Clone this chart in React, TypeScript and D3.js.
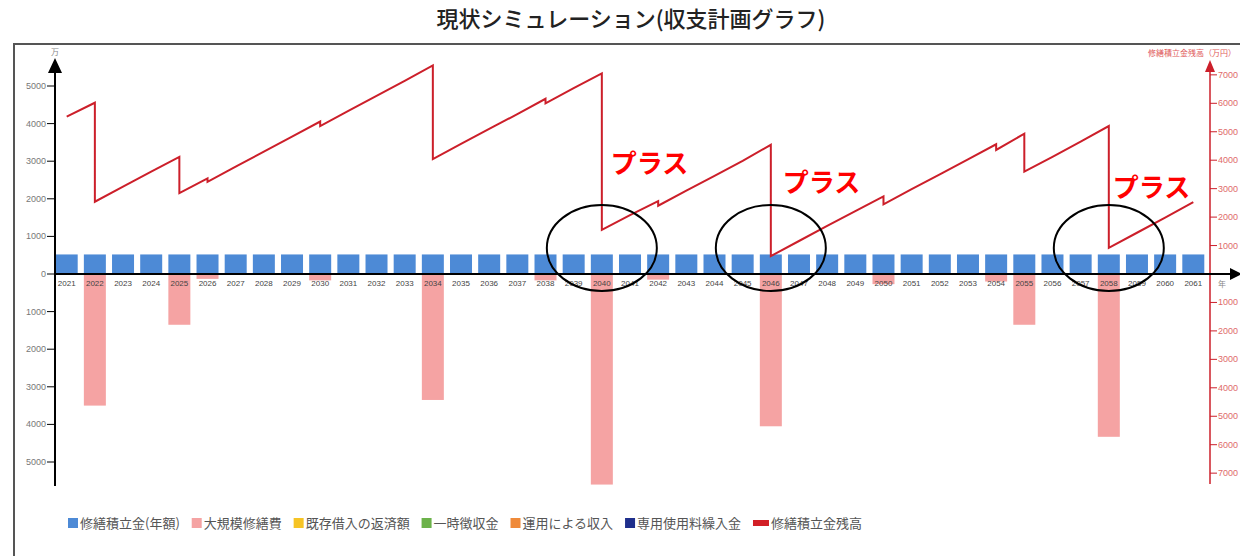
import { useEffect, useRef } from "react"
import * as d3 from "d3"

const W = 1240
const H = 556

const YEARS = [
  2021, 2022, 2023, 2024, 2025, 2026, 2027, 2028, 2029, 2030,
  2031, 2032, 2033, 2034, 2035, 2036, 2037, 2038, 2039, 2040,
  2041, 2042, 2043, 2044, 2045, 2046, 2047, 2048, 2049, 2050,
  2051, 2052, 2053, 2054, 2055, 2056, 2057, 2058, 2059, 2060,
  2061,
]

// 修繕積立金(年額) 万円
const RESERVE = [
  520, 520, 520, 520, 520, 520, 520, 520, 520, 520,
  520, 520, 520, 520, 520, 520, 520, 520, 520, 520,
  520, 520, 520, 520, 520, 520, 520, 520, 520, 520,
  520, 520, 520, 520, 520, 520, 520, 520, 520, 520,
  520,
]

// 大規模修繕費 (下向き)
const REPAIR = [
  0, 3500, 0, 0, 1350, 130, 0, 0, 0, 170,
  0, 0, 0, 3350, 0, 0, 0, 170, 0, 5600,
  0, 150, 0, 0, 0, 4050, 0, 0, 0, 270,
  0, 0, 0, 200, 1350, 0, 0, 4330, 0, 0,
  0,
]

// 修繕積立金残高: 修繕前 / 修繕後
const BALANCE_BEFORE = [
  5530, 6020, 3070, 3600, 4120, 3360, 3770, 4300, 4830, 5360,
  5730, 6260, 6790, 7330, 4570, 5100, 5620, 6160, 6530, 7050,
  2070, 2560, 2930, 3450, 3980, 4540, 1160, 1690, 2210, 2730,
  2980, 3500, 4030, 4560, 4930, 4120, 4650, 5200, 1450, 1980,
  2530,
]
const BALANCE_AFTER = [
  5530, 2540, 3070, 3600, 2840, 3240, 3770, 4300, 4830, 5200,
  5730, 6260, 6790, 4040, 4570, 5100, 5620, 6000, 6530, 1550,
  2070, 2400, 2930, 3450, 3980, 630, 1160, 1690, 2210, 2450,
  2980, 3500, 4030, 4360, 3600, 4120, 4650, 920, 1450, 1980,
  2530,
]

const LEFT_TICKS = [-5000, -4000, -3000, -2000, -1000, 0, 1000, 2000, 3000, 4000, 5000]
const RIGHT_TICKS = [-7000, -6000, -5000, -4000, -3000, -2000, -1000, 1000, 2000, 3000, 4000, 5000, 6000, 7000]

const LEGEND = [
  { label: "修繕積立金(年額)", color: "#4d8ad6", kind: "box" },
  { label: "大規模修繕費", color: "#f5a3a3", kind: "box" },
  { label: "既存借入の返済額", color: "#f6c425", kind: "box" },
  { label: "一時徴収金", color: "#6cb24a", kind: "box" },
  { label: "運用による収入", color: "#ef8a3a", kind: "box" },
  { label: "専用使用料繰入金", color: "#1f2f8c", kind: "box" },
  { label: "修繕積立金残高", color: "#d21f26", kind: "line" },
]

const NOTE_YEARS = [2040, 2046, 2058]
const NOTE_LABEL = "プラス"

const JP = "'Noto Sans CJK JP', sans-serif"
const NUM = "'Liberation Sans', Arial, sans-serif"
const BLUE = "#4d8ad6"
const PINK = "#f5a3a3"
const LINE_RED = "#cc1f2a"

export default function App() {
  const ref = useRef<SVGSVGElement>(null)

  useEffect(() => {
    const svg = d3.select(ref.current!)
    svg.selectAll("*").remove()

    const x0 = 55, x1 = 1210, yTop = 58, yBot = 486, yZero = 274
    const x = d3.scaleLinear().domain([2021, 2061]).range([66.7, 1193.3])
    const yL = d3.scaleLinear().domain([-(yBot - yZero) / 0.0376, (yZero - yTop) / 0.0376]).range([yBot, yTop])
    const yR = d3.scaleLinear().domain([-(yBot - yZero) / 0.02845, (yZero - yTop) / 0.02845]).range([yBot, yTop])
    const bw = 22

    // frame
    svg.append("rect").attr("x", 14).attr("y", 44).attr("width", 1300).attr("height", 600)
      .attr("fill", "none").attr("stroke", "#555").attr("stroke-width", 2)

    // title
    svg.append("text").attr("x", 631).attr("y", 27).attr("text-anchor", "middle")
      .attr("font-family", JP).attr("font-size", 22).attr("font-weight", 500).attr("fill", "#222")
      .text("現状シミュレーション(収支計画グラフ)")

    // bars
    svg.append("g").selectAll("rect").data(YEARS).join("rect")
      .attr("x", (d) => x(d) - bw / 2).attr("width", bw)
      .attr("y", (_, i) => yL(RESERVE[i])).attr("height", (_, i) => yL(0) - yL(RESERVE[i]))
      .attr("fill", BLUE)
    svg.append("g").selectAll("rect").data(YEARS).join("rect")
      .attr("x", (d) => x(d) - bw / 2).attr("width", bw)
      .attr("y", yL(0)).attr("height", (_, i) => yL(-REPAIR[i]) - yL(0))
      .attr("fill", PINK)

    // left axis
    const la = svg.append("g")
    la.append("line").attr("x1", x0).attr("x2", x0).attr("y1", yBot).attr("y2", yTop + 8)
      .attr("stroke", "#000").attr("stroke-width", 2)
    la.append("path").attr("d", `M${x0},${yTop} L${x0 - 7},${yTop + 15} L${x0 + 7},${yTop + 15} Z`).attr("fill", "#000")
    la.append("text").attr("x", x0).attr("y", 55).attr("text-anchor", "middle")
      .attr("font-family", JP).attr("font-size", 8).attr("fill", "#888").text("万")
    LEFT_TICKS.forEach((t) => {
      la.append("line").attr("x1", x0 - 8).attr("x2", x0).attr("y1", yL(t)).attr("y2", yL(t))
        .attr("stroke", "#000").attr("stroke-width", 1)
      la.append("text").attr("x", x0 - 9).attr("y", yL(t) + 3).attr("text-anchor", "end")
        .attr("font-family", NUM).attr("font-size", 9).attr("fill", "#777").text(String(Math.abs(t)))
    })

    // right axis
    const ra = svg.append("g")
    ra.append("line").attr("x1", x1).attr("x2", x1).attr("y1", yBot - 2).attr("y2", yTop + 8)
      .attr("stroke", LINE_RED).attr("stroke-width", 1.5)
    ra.append("path").attr("d", `M${x1},${yTop + 2} L${x1 - 5},${yTop + 14} L${x1 + 5},${yTop + 14} Z`).attr("fill", LINE_RED)
    ra.append("text").attr("x", 1236).attr("y", 56).attr("text-anchor", "end")
      .attr("font-family", JP).attr("font-size", 8).attr("fill", "#e05a5a").text("修繕積立金残高（万円）")
    RIGHT_TICKS.forEach((t) => {
      ra.append("line").attr("x1", x1).attr("x2", x1 + 7).attr("y1", yR(t)).attr("y2", yR(t))
        .attr("stroke", LINE_RED).attr("stroke-width", 1)
      ra.append("text").attr("x", x1 + 8).attr("y", yR(t) + 3)
        .attr("font-family", NUM).attr("font-size", 9).attr("fill", "#e06a6a").text(String(Math.abs(t)))
    })

    // x axis
    svg.append("line").attr("x1", x0).attr("x2", 1233).attr("y1", yZero).attr("y2", yZero)
      .attr("stroke", "#000").attr("stroke-width", 2)
    svg.append("path").attr("d", `M1242,${yZero} L1230,${yZero - 6} L1230,${yZero + 6} Z`).attr("fill", "#000")
    svg.append("text").attr("x", 1222).attr("y", 287).attr("text-anchor", "middle")
      .attr("font-family", JP).attr("font-size", 8).attr("fill", "#888").text("年")
    svg.append("g").selectAll("text").data(YEARS).join("text")
      .attr("x", (d) => x(d)).attr("y", 286).attr("text-anchor", "middle")
      .attr("font-family", NUM).attr("font-size", 8).attr("fill", "#444").text((d) => String(d))

    // balance line
    const pts: [number, number][] = []
    YEARS.forEach((yr, i) => {
      pts.push([yr, BALANCE_BEFORE[i]])
      if (BALANCE_AFTER[i] !== BALANCE_BEFORE[i]) pts.push([yr, BALANCE_AFTER[i]])
    })
    svg.append("path").datum(pts)
      .attr("d", d3.line<[number, number]>().x((p) => x(p[0])).y((p) => yR(p[1])))
      .attr("fill", "none").attr("stroke", LINE_RED).attr("stroke-width", 2)

    // annotations
    const noteOffsets = [[9, 173], [12, 192], [4, 197]]
    NOTE_YEARS.forEach((yr, i) => {
      svg.append("ellipse").attr("cx", x(yr)).attr("cy", 248).attr("rx", 55).attr("ry", 43)
        .attr("fill", "none").attr("stroke", "#000").attr("stroke-width", 2)
      svg.append("text").attr("x", x(yr) + noteOffsets[i][0]).attr("y", noteOffsets[i][1])
        .attr("font-family", JP).attr("font-size", 26).attr("font-weight", 700).attr("fill", "#ff0000")
        .text(NOTE_LABEL)
    })

    // legend
    const lg = svg.append("g")
    const items = LEGEND.map((d) => {
      const g = lg.append("g")
      const sw = d.kind === "line" ? 16 : 10
      if (d.kind === "line") g.append("rect").attr("x", 0).attr("y", -3).attr("width", sw).attr("height", 6).attr("fill", d.color)
      else g.append("rect").attr("x", 0).attr("y", -5).attr("width", sw).attr("height", 10).attr("fill", d.color)
      const t = g.append("text").attr("x", sw + 2).attr("y", 4.5)
        .attr("font-family", JP).attr("font-size", 13).attr("fill", "#555").text(d.label)
      const w = sw + 2 + (t.node() as SVGTextElement).getComputedTextLength()
      return { g, w }
    })
    const total = d3.sum(items, (d) => d.w)
    const gap = (862 - 68 - total) / (items.length - 1)
    let cx = 68
    items.forEach((it) => {
      it.g.attr("transform", `translate(${cx},523)`)
      cx += it.w + gap
    })
  }, [])

  return (
    <svg ref={ref} width={W} height={H}
      style={{ position: "absolute", left: 0, top: 0, background: "#fff", display: "block" }} />
  )
}
